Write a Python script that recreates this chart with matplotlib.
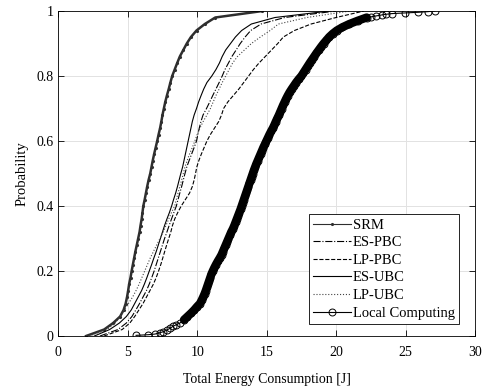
import numpy as np
import matplotlib
matplotlib.use('Agg')
import matplotlib.pyplot as plt

plt.rcParams['font.family'] = ['Liberation Serif', 'DejaVu Serif']

# probability levels for the thin curves (0, 0.02, ..., 1)
prob = np.linspace(0, 1, 51)

srm = [2.0, 3.3, 3.95, 4.45, 4.7, 4.85, 4.95, 5.03, 5.1, 5.2,
       5.28, 5.37, 5.46, 5.55, 5.65, 5.75, 5.85, 5.92, 6.0, 6.06,
       6.12, 6.22, 6.31, 6.4, 6.5, 6.62, 6.71, 6.8, 6.9, 7.01,
       7.12, 7.22, 7.33, 7.42, 7.5, 7.6, 7.7, 7.82, 7.95, 8.07,
       8.2, 8.38, 8.56, 8.75, 9.0, 9.25, 9.55, 9.95, 10.55, 11.3, 14.7]

es_pbc = [3.0, 4.3, 4.9, 5.3, 5.58, 5.85, 6.1, 6.35, 6.55, 6.73,
          6.9, 7.05, 7.2, 7.35, 7.5, 7.65, 7.82, 7.98, 8.15, 8.32,
          8.5, 8.62, 8.75, 8.88, 9.0, 9.12, 9.25, 9.42, 9.6, 9.78,
          9.95, 10.05, 10.15, 10.27, 10.42, 10.67, 10.9, 11.12, 11.35, 11.58,
          11.8, 12.0, 12.25, 12.5, 12.8, 13.1, 13.45, 13.85, 14.6, 16.3, 20.0]

lp_pbc = [3.3, 4.6, 5.15, 5.5, 5.8, 6.1, 6.35, 6.6, 6.85, 7.05,
          7.22, 7.38, 7.52, 7.66, 7.8, 7.95, 8.1, 8.22, 8.38, 8.6,
          8.85, 9.15, 9.45, 9.65, 9.78, 9.88, 9.97, 10.12, 10.3, 10.5,
          10.7, 10.95, 11.25, 11.55, 11.75, 11.9, 12.2, 12.6, 13.0, 13.35,
          13.7, 14.05, 14.45, 14.9, 15.35, 15.8, 16.2, 17.0, 18.2, 20.0, 22.0]

es_ubc = [2.6, 3.7, 4.4, 4.9, 5.25, 5.5, 5.75, 6.0, 6.2, 6.38,
          6.55, 6.72, 6.88, 7.05, 7.2, 7.35, 7.5, 7.65, 7.82, 8.0,
          8.16, 8.3, 8.45, 8.58, 8.7, 8.82, 8.95, 9.05, 9.15, 9.25,
          9.35, 9.45, 9.55, 9.65, 9.78, 9.95, 10.1, 10.28, 10.47, 10.7,
          11.05, 11.35, 11.6, 11.8, 12.05, 12.4, 12.75, 13.2, 13.9, 15.6, 19.5]

lp_ubc = [2.2, 3.5, 4.1, 4.45, 4.75, 5.05, 5.35, 5.6, 5.82, 6.02,
          6.22, 6.42, 6.62, 6.85, 7.08, 7.32, 7.55, 7.75, 7.95, 8.15,
          8.38, 8.5, 8.62, 8.75, 8.88, 9.0, 9.12, 9.28, 9.45, 9.65,
          9.83, 10.0, 10.2, 10.43, 10.7, 10.95, 11.15, 11.35, 11.58, 11.8,
          12.05, 12.3, 12.55, 12.9, 13.4, 13.9, 14.55, 15.25, 15.85, 17.9, 21.0]

# local computing: sparse head, dense body (p = 0.05 ... 0.98), sparse tail
lc_head_x = [5.6, 6.47, 6.96, 7.3, 7.55, 7.8, 8.05, 8.27, 8.5, 8.76]
lc_head_p = [0.002, 0.004, 0.006, 0.01, 0.013, 0.018, 0.024, 0.03, 0.035, 0.04]
lc_body_x = [9.05, 9.3, 9.55, 9.78, 9.98, 10.2, 10.32, 10.43, 10.53, 10.62,
             10.7, 10.78, 10.86, 10.94, 11.02, 11.12, 11.23, 11.35, 11.48, 11.62,
             11.75, 11.85, 11.95, 12.05, 12.15, 12.25, 12.35, 12.45, 12.57, 12.67,
             12.76, 12.85, 12.94, 13.03, 13.12, 13.2, 13.28, 13.36, 13.44, 13.52,
             13.6, 13.68, 13.76, 13.84, 13.92, 14.0, 14.08, 14.17, 14.26, 14.36,
             14.46, 14.56, 14.66, 14.76, 14.87, 14.98, 15.09, 15.2, 15.32, 15.45,
             15.56, 15.66, 15.77, 15.88, 15.98, 16.08, 16.18, 16.29, 16.4, 16.52,
             16.65, 16.8, 16.96, 17.12, 17.3, 17.5, 17.65, 17.8, 17.95, 18.1,
             18.26, 18.42, 18.58, 18.75, 18.92, 19.1, 19.3, 19.5, 19.75, 20.05,
             20.45, 20.95, 21.55, 22.2]
lc_body_p = np.arange(5, 99) / 100
lc_tail_x = [22.5, 22.9, 23.3, 23.6, 24.0, 24.94, 25.9, 26.6, 27.1]
lc_tail_p = [0.982, 0.985, 0.988, 0.99, 0.992, 0.994, 0.996, 0.998, 1.0]

lc_x = np.r_[lc_head_x, lc_body_x, lc_tail_x]
lc_p = np.r_[lc_head_p, lc_body_p, lc_tail_p]

fig = plt.figure(figsize=(4.87, 3.86), dpi=100)
ax = fig.add_axes([0.1197, 0.1295, 0.8557, 0.842])

ax.plot(srm, prob, color='#2e2e2e', lw=1.8, marker='.', ms=2.5, label='SRM')
ax.plot(es_pbc, prob, color='k', lw=0.8, ls='-.', label='ES-PBC')
ax.plot(lp_pbc, prob, color='k', lw=0.8, ls='--', label='LP-PBC')
ax.plot(es_ubc, prob, color='k', lw=0.8, ls='-', label='ES-UBC')
ax.plot(lp_ubc, prob, color='#444444', lw=0.8, ls=':', label='LP-UBC')
# the dense sample cloud of local computing merges into a solid band
ax.plot(lc_body_x, lc_body_p, color='k', lw=6, solid_capstyle='round')
ax.plot(lc_x, lc_p, color='k', lw=0.8, marker='o', ms=5, mfc='none', mew=0.7,
        label='Local Computing')

ax.set_xlim(0, 30)
ax.set_ylim(0, 1)
ax.set_xticks(np.arange(0, 31, 5))
ax.set_yticks(np.arange(0, 1.01, 0.2))
ax.set_yticklabels(['0', '0.2', '0.4', '0.6', '0.8', '1'])
ax.grid(True, color='#e2e2e2', lw=0.7)
ax.set_axisbelow(True)
ax.tick_params(direction='in', length=4, width=0.6, top=True, right=True, labelsize=10)
ax.tick_params(axis='x', pad=7)
for s in ax.spines.values():
    s.set_linewidth(0.6)
ax.set_xlabel('Total Energy Consumption [J]', fontsize=10, labelpad=10)
ax.set_ylabel('Probability', fontsize=10.5, labelpad=5.5)

leg = ax.legend(loc='lower right', bbox_to_anchor=(0.962, 0.037), borderaxespad=0,
                fontsize=10.5, handlelength=2.55, handletextpad=0.15, labelspacing=0.3,
                fancybox=False, framealpha=1, edgecolor='k', borderpad=0.3)
leg.get_frame().set_linewidth(0.6)
leg.legend_handles[0].set_linewidth(0.8)

fig.savefig('out.png', dpi=100)
